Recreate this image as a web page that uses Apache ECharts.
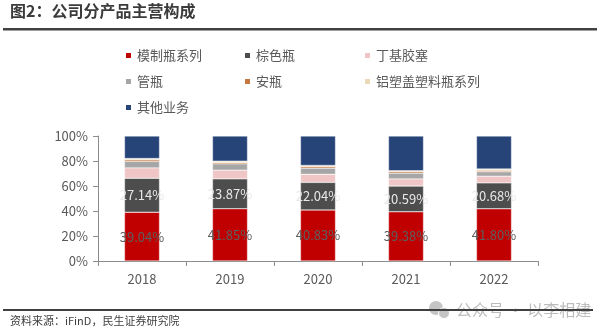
<!DOCTYPE html>
<html>
<head>
<meta charset="utf-8">
<script src="https://cdn.jsdelivr.net/npm/echarts@6/dist/echarts.min.js"></script>
<style>html,body{margin:0;padding:0;background:#fff;}#c{width:607px;height:336px;}</style>
</head>
<body>
<div id="c"></div>
<script>
var categories = ['2018', '2019', '2020', '2021', '2022'];
var seriesNames = ['模制瓶系列', '棕色瓶', '丁基胶塞', '管瓶', '安瓶', '铝塑盖塑料瓶系列', '其他业务'];
var moldedBottle = [39.04, 41.85, 40.83, 39.38, 41.80];
var brownBottle = [27.14, 23.87, 22.04, 20.59, 20.68];
var butylStopper = [8.3, 7.0, 6.5, 5.7, 5.4];
var tubeVial = [5.2, 5.0, 4.9, 4.6, 3.5];
var ampoule = [1.2, 1.1, 1.2, 1.2, 1.2];
var aluPlastic = [1.1, 1.1, 1.0, 0.8, 1.0];
var otherBusiness = [18.02, 20.08, 23.53, 27.73, 26.42];
var yTicks = [0, 20, 40, 60, 80, 100];

var colors = ['#C00000', '#4D4D4D', '#EFC5C5', '#A6A6A6', '#C5773F', '#EBDAB8', '#264478'];
var allData = [moldedBottle, brownBottle, butylStopper, tubeVial, ampoule, aluPlastic, otherBusiness];
var FONT = '"Noto Sans CJK SC", "Noto Sans", sans-serif';

var legendPos = [
  [124, 0], [243, 0], [363, 0],
  [124, 1], [243, 1], [363, 1],
  [124, 2]
];
var rowTops = [49, 75, 101];
var legends = seriesNames.map(function (n, i) {
  return {
    data: [n], left: legendPos[i][0], top: rowTops[legendPos[i][1]], padding: 0,
    icon: 'rect', itemWidth: 7, itemHeight: 7, itemGap: 0,
    textStyle: { fontSize: 13, color: '#595959', fontFamily: FONT }
  };
});

var series = seriesNames.map(function (n, i) {
  var s = {
    name: n, type: 'bar', stack: 'total', barWidth: 35,
    data: allData[i],
    itemStyle: { color: colors[i], borderColor: '#ffffff', borderWidth: 0.4 },
    emphasis: { disabled: true }
  };
  if (i === 0 || i === 1) {
    s.label = {
      show: true, position: 'inside', fontSize: 13, fontFamily: FONT,
      color: i === 0 ? '#5e5e5e' : '#e8e8e8',
      formatter: function (p) { return p.value.toFixed(2) + '%'; }
    };
  }
  return s;
});

var chart = echarts.init(document.getElementById('c'), null, { renderer: 'canvas' });
chart.setOption({
  animation: false,
  backgroundColor: '#fff',
  color: colors,
  legend: legends,
  grid: { left: 98, right: 69, top: 136, bottom: 75 },
  xAxis: {
    type: 'category', data: categories,
    axisLine: { lineStyle: { color: '#8c8c8c', width: 1 } },
    axisTick: { show: true, length: 5, alignWithLabel: false, lineStyle: { color: '#8c8c8c' } },
    axisLabel: { fontSize: 13, color: '#595959', margin: 12, fontFamily: FONT }
  },
  yAxis: {
    type: 'value', min: yTicks[0], max: yTicks[yTicks.length - 1], interval: 20,
    axisLine: { show: true, lineStyle: { color: '#8c8c8c', width: 1 } },
    axisTick: { show: true, length: 5, lineStyle: { color: '#8c8c8c' } },
    splitLine: { show: false },
    axisLabel: { fontSize: 13, color: '#595959', margin: 10, fontFamily: FONT, formatter: '{value}%' }
  },
  series: series,
  graphic: [
    { type: 'text', left: 10, top: 3, style: { text: '图2：公司分产品主营构成', font: 'bold 16px ' + FONT, fill: '#3b3b3b' } },
    { type: 'rect', shape: { x: 3, y: 28, width: 594, height: 2.5 }, style: { fill: '#404040' } },
    { type: 'circle', shape: { cx: 436, cy: 308, r: 7 }, style: { fill: '#c4c4c4' } },
    { type: 'circle', shape: { cx: 444, cy: 313, r: 5.5 }, style: { fill: '#c4c4c4', stroke: '#fff', lineWidth: 1 } },
    { type: 'text', left: 456, top: 302, style: { text: '公众号 · 以李相建', font: '16px ' + FONT, fill: '#bdbdbd' } },
    { type: 'rect', shape: { x: 3, y: 309, width: 590, height: 2 }, style: { fill: '#404040' } },
    { type: 'text', left: 10, top: 315, style: { text: '资料来源：iFinD，民生证券研究院', font: '11px ' + FONT, fill: '#404040' } }
  ]
});
</script>
</body>
</html>
